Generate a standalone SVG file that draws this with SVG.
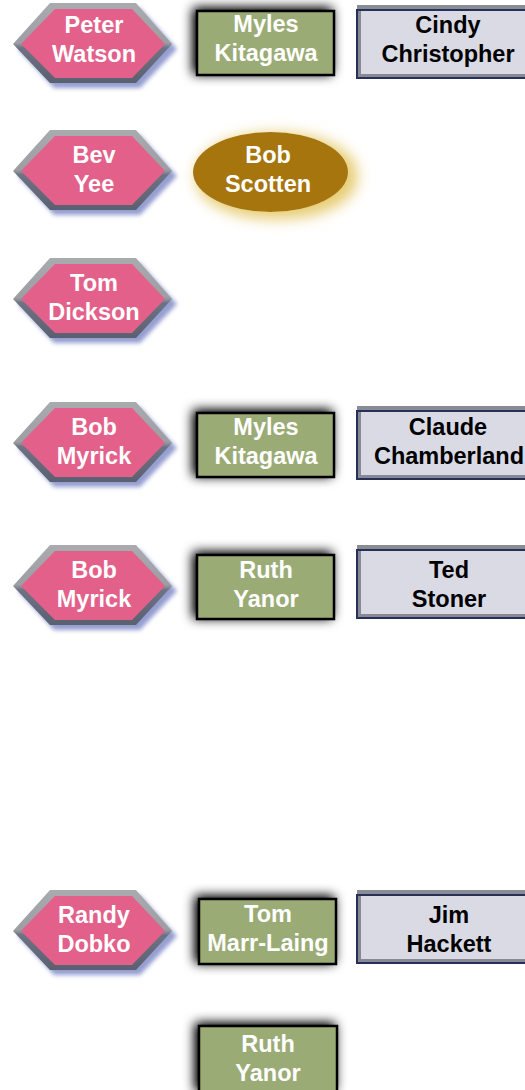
<svg xmlns="http://www.w3.org/2000/svg" xmlns:xlink="http://www.w3.org/1999/xlink" width="525" height="1090" viewBox="0 0 525 1090">
  <defs>
    <style>
      .lbl { font-family: "Liberation Sans", Arial, sans-serif; font-weight: bold; font-size: 23.5px; text-anchor: middle; }
      .light { fill: #ffffff; }
      .dark { fill: #000000; }
      .hex-face { fill: #e3608a; }
      .hex-shadow { fill: #949ed0; }
      .green-box { fill: #9bab74; stroke: #000000; stroke-width: 2.5; }
      .oval { fill: #a67408; }
    </style>
    <linearGradient id="bevel" x1="0" y1="0" x2="0" y2="1">
      <stop offset="0" stop-color="#aaabaf"/>
      <stop offset="0.5" stop-color="#9c9ea4"/>
      <stop offset="0.56" stop-color="#6e7383"/>
      <stop offset="1" stop-color="#596070"/>
    </linearGradient>
    <filter id="softBlue" x="-20%" y="-30%" width="140%" height="160%">
      <feGaussianBlur stdDeviation="2"/>
    </filter>
    <filter id="darkHalo" x="-40%" y="-60%" width="180%" height="220%">
      <feGaussianBlur in="SourceAlpha" stdDeviation="6" result="b"/>
      <feOffset in="b" dx="-3" dy="-2" result="o"/>
      <feComponentTransfer in="o" result="s"><feFuncA type="linear" slope="1.15"/></feComponentTransfer>
      <feMerge><feMergeNode in="s"/><feMergeNode in="SourceGraphic"/></feMerge>
    </filter>
    <filter id="goldGlow" x="-40%" y="-60%" width="180%" height="220%">
      <feMorphology in="SourceAlpha" operator="dilate" radius="3" result="d"/>
      <feGaussianBlur in="d" stdDeviation="7" result="b"/>
      <feOffset in="b" dx="6" dy="4" result="o"/>
      <feFlood flood-color="#e6cc72" flood-opacity="1"/>
      <feComposite in2="o" operator="in" result="g"/>
      <feMerge><feMergeNode in="g"/><feMergeNode in="SourceGraphic"/></feMerge>
    </filter>
    <!-- bevelled hexagon, centred vertically on y=0 -->
    <g id="hexShape">
      <polygon class="hex-shadow" filter="url(#softBlue)" points="18,5 54,-36 140,-36 177,5 140,44 54,44"/>
      <polygon fill="url(#bevel)" points="13,0 50,-41 136,-41 172,0 136,39 50,39"/>
      <polygon class="hex-face" points="21,0 55,-35 132,-35 165,0 132,34 55,34"/>
    </g>
    <!-- bevelled grey panel, top edge at y=0, runs off the right side -->
    <g id="greyPanel">
      <rect x="357" y="0" width="200" height="5" fill="#8a8c94"/>
      <rect x="356" y="4" width="200" height="70" fill="#26305a"/>
      <rect x="358" y="6" width="200" height="66" fill="#878a94"/>
      <rect x="361" y="6" width="200" height="63" fill="#d9dae4"/>
    </g>
  </defs>

  <rect width="525" height="1090" fill="#ffffff"/>

  <g id="connectors"></g>

  <!-- row 1 -->
  <g id="peter-watson">
    <use xlink:href="#hexShape" href="#hexShape" y="44"/>
    <text class="lbl light" x="94" y="33">Peter</text>
    <text class="lbl light" x="94" y="62">Watson</text>
  </g>
  <g id="myles-kitagawa-1">
    <rect class="green-box" filter="url(#darkHalo)" x="197" y="11" width="137" height="64"/>
    <text class="lbl light" x="266" y="32">Myles</text>
    <text class="lbl light" x="266" y="61">Kitagawa</text>
  </g>
  <g id="cindy-christopher">
    <use xlink:href="#greyPanel" href="#greyPanel" y="5"/>
    <text class="lbl dark" x="448" y="33">Cindy</text>
    <text class="lbl dark" x="448" y="62">Christopher</text>
  </g>

  <!-- row 2 -->
  <g id="bev-yee">
    <use xlink:href="#hexShape" href="#hexShape" y="171"/>
    <text class="lbl light" x="94" y="163">Bev</text>
    <text class="lbl light" x="94" y="192">Yee</text>
  </g>
  <g id="bob-scotten">
    <ellipse class="oval" filter="url(#goldGlow)" cx="270.5" cy="172" rx="77.5" ry="40"/>
    <text class="lbl light" x="268" y="163">Bob</text>
    <text class="lbl light" x="268" y="192">Scotten</text>
  </g>

  <!-- row 3 -->
  <g id="tom-dickson">
    <use xlink:href="#hexShape" href="#hexShape" y="299"/>
    <text class="lbl light" x="94" y="291">Tom</text>
    <text class="lbl light" x="94" y="320">Dickson</text>
  </g>

  <!-- row 4 -->
  <g id="bob-myrick-1">
    <use xlink:href="#hexShape" href="#hexShape" y="443"/>
    <text class="lbl light" x="94" y="435">Bob</text>
    <text class="lbl light" x="94" y="464">Myrick</text>
  </g>
  <g id="myles-kitagawa-2">
    <rect class="green-box" filter="url(#darkHalo)" x="197" y="413" width="137" height="64"/>
    <text class="lbl light" x="266" y="435">Myles</text>
    <text class="lbl light" x="266" y="464">Kitagawa</text>
  </g>
  <g id="claude-chamberland">
    <use xlink:href="#greyPanel" href="#greyPanel" y="406"/>
    <text class="lbl dark" x="448" y="435">Claude</text>
    <text class="lbl dark" x="449" y="464">Chamberland</text>
  </g>

  <!-- row 5 -->
  <g id="bob-myrick-2">
    <use xlink:href="#hexShape" href="#hexShape" y="586"/>
    <text class="lbl light" x="94" y="578">Bob</text>
    <text class="lbl light" x="94" y="607">Myrick</text>
  </g>
  <g id="ruth-yanor-1">
    <rect class="green-box" filter="url(#darkHalo)" x="197" y="555" width="137" height="64"/>
    <text class="lbl light" x="266" y="578">Ruth</text>
    <text class="lbl light" x="266" y="607">Yanor</text>
  </g>
  <g id="ted-stoner">
    <use xlink:href="#greyPanel" href="#greyPanel" y="545"/>
    <text class="lbl dark" x="449" y="578">Ted</text>
    <text class="lbl dark" x="449" y="607">Stoner</text>
  </g>

  <!-- row 6 -->
  <g id="randy-dobko">
    <use xlink:href="#hexShape" href="#hexShape" y="931"/>
    <text class="lbl light" x="94" y="923">Randy</text>
    <text class="lbl light" x="94" y="952">Dobko</text>
  </g>
  <g id="tom-marr-laing">
    <rect class="green-box" filter="url(#darkHalo)" x="199" y="899" width="137" height="65"/>
    <text class="lbl light" x="268" y="922">Tom</text>
    <text class="lbl light" x="268" y="951">Marr-Laing</text>
  </g>
  <g id="jim-hackett">
    <use xlink:href="#greyPanel" href="#greyPanel" y="890"/>
    <text class="lbl dark" x="449" y="923">Jim</text>
    <text class="lbl dark" x="449" y="952">Hackett</text>
  </g>

  <!-- row 7 -->
  <g id="ruth-yanor-2">
    <rect class="green-box" filter="url(#darkHalo)" x="199" y="1026" width="138" height="66"/>
    <text class="lbl light" x="268" y="1052">Ruth</text>
    <text class="lbl light" x="268" y="1081">Yanor</text>
  </g>
</svg>
